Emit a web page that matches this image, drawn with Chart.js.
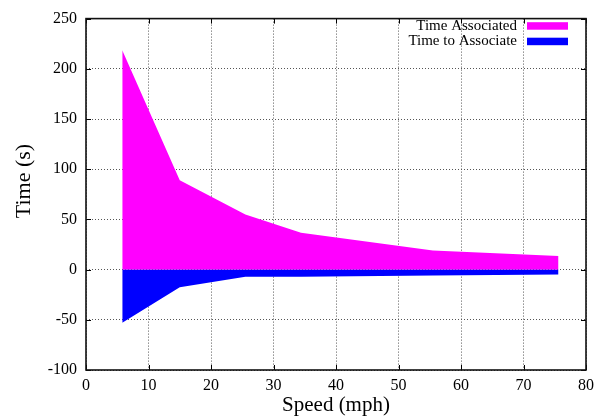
<!DOCTYPE html>
<html>
<head>
<meta charset="utf-8">
<script src="https://cdn.jsdelivr.net/npm/chart.js@4/dist/chart.umd.min.js"></script>
<style>
html,body{margin:0;padding:0;background:#fff;}
#wrap{width:600px;height:419px;position:relative;}
</style>
</head>
<body>
<div id="wrap"><canvas id="c" width="600" height="419"></canvas></div>
<script>
const speeds = [5.8, 15, 25.5, 34.4, 55.5, 75.6];
const timeAssociated = [218.4, 89, 55, 36.8, 19.1, 13.5];
const timeToAssociate = [-53, -17.5, -7, -7, -6, -5];
const seriesLabels = ['Time Associated', 'Time to Associate'];
const seriesColors = ['#ff00ff', '#0000ff'];
const xTickValues = [0, 10, 20, 30, 40, 50, 60, 70, 80];
const yTickValues = [-100, -50, 0, 50, 100, 150, 200, 250];
const yTitle = 'Time (s)';

const FONT = "'Liberation Serif', 'Times New Roman', serif";

const framePlugin = {
  id: 'frame',
  afterDraw(chart) {
    const {ctx, chartArea: {left, right, top, bottom}, scales: {x, y}} = chart;
    ctx.save();
    ctx.strokeStyle = '#000';
    ctx.lineWidth = 1;
    ctx.beginPath();
    xTickValues.forEach(v => {
      const px = Math.round(x.getPixelForValue(v)) + 0.5;
      ctx.moveTo(px, bottom); ctx.lineTo(px, bottom - 5);
      ctx.moveTo(px, top); ctx.lineTo(px, top + 5);
    });
    yTickValues.forEach(v => {
      const py = Math.round(y.getPixelForValue(v)) + 0.5;
      ctx.moveTo(left, py); ctx.lineTo(left + 5, py);
      ctx.moveTo(right, py); ctx.lineTo(right - 5, py);
    });
    ctx.stroke();
    ctx.lineWidth = 1.6;
    ctx.strokeStyle = '#111';
    ctx.strokeRect(left, top, right - left, bottom - top);
    // key (legend)
    ctx.font = '15px ' + FONT;
    ctx.textAlign = 'right';
    ctx.textBaseline = 'middle';
    ctx.fillStyle = '#000';
    chart.data.datasets.forEach((ds, i) => {
      const cy = 26 + i * 15.5;
      ctx.fillText(ds.label, 517, cy);
      ctx.fillStyle = ds.backgroundColor;
      ctx.fillRect(527, cy - 3.8, 41, 7.5);
      ctx.fillStyle = '#000';
    });
    // y axis title
    ctx.save();
    ctx.translate(24, 181);
    ctx.rotate(-Math.PI / 2);
    ctx.font = '22px ' + FONT;
    ctx.textAlign = 'center';
    ctx.textBaseline = 'middle';
    ctx.fillStyle = '#000';
    ctx.fillText(yTitle, 0, 0);
    ctx.restore();
    ctx.restore();
  }
};

new Chart(document.getElementById('c'), {
  type: 'line',
  data: {
    datasets: [
      {
        label: seriesLabels[0],
        data: speeds.map((s, i) => ({x: s, y: timeAssociated[i]})),
        backgroundColor: seriesColors[0],
        borderColor: seriesColors[0],
        borderWidth: 0,
        pointRadius: 0,
        tension: 0,
        fill: 'origin'
      },
      {
        label: seriesLabels[1],
        data: speeds.map((s, i) => ({x: s, y: timeToAssociate[i]})),
        backgroundColor: seriesColors[1],
        borderColor: seriesColors[1],
        borderWidth: 0,
        pointRadius: 0,
        tension: 0,
        fill: 'origin'
      }
    ]
  },
  options: {
    responsive: false,
    animation: false,
    layout: {padding: {top: 13, right: 14, left: 0, bottom: 0}},
    plugins: {legend: {display: false}, tooltip: {enabled: false}},
    scales: {
      x: {
        type: 'linear',
        min: 0, max: 80,
        afterBuildTicks(s) { s.ticks = xTickValues.map(v => ({value: v})); },
        afterFit(s) { s.height = 49; },
        grid: {color: '#555', drawTicks: false, lineWidth: 1},
        border: {display: false, dash: [1, 2]},
        ticks: {color: '#000', font: {family: FONT, size: 16}, padding: 6, maxRotation: 0},
        title: {display: true, text: 'Speed (mph)', color: '#000', font: {family: FONT, size: 21}, padding: {top: 0, bottom: 1}}
      },
      y: {
        type: 'linear',
        min: -100, max: 250,
        afterBuildTicks(s) { s.ticks = yTickValues.map(v => ({value: v})); },
        afterFit(s) { s.width = 86; },
        grid: {color: '#555', drawTicks: false, lineWidth: 1},
        border: {display: false, dash: [1, 2]},
        ticks: {color: '#000', font: {family: FONT, size: 16}, padding: 9},
        title: {display: false}
      }
    }
  },
  plugins: [framePlugin]
});
</script>
</body>
</html>
